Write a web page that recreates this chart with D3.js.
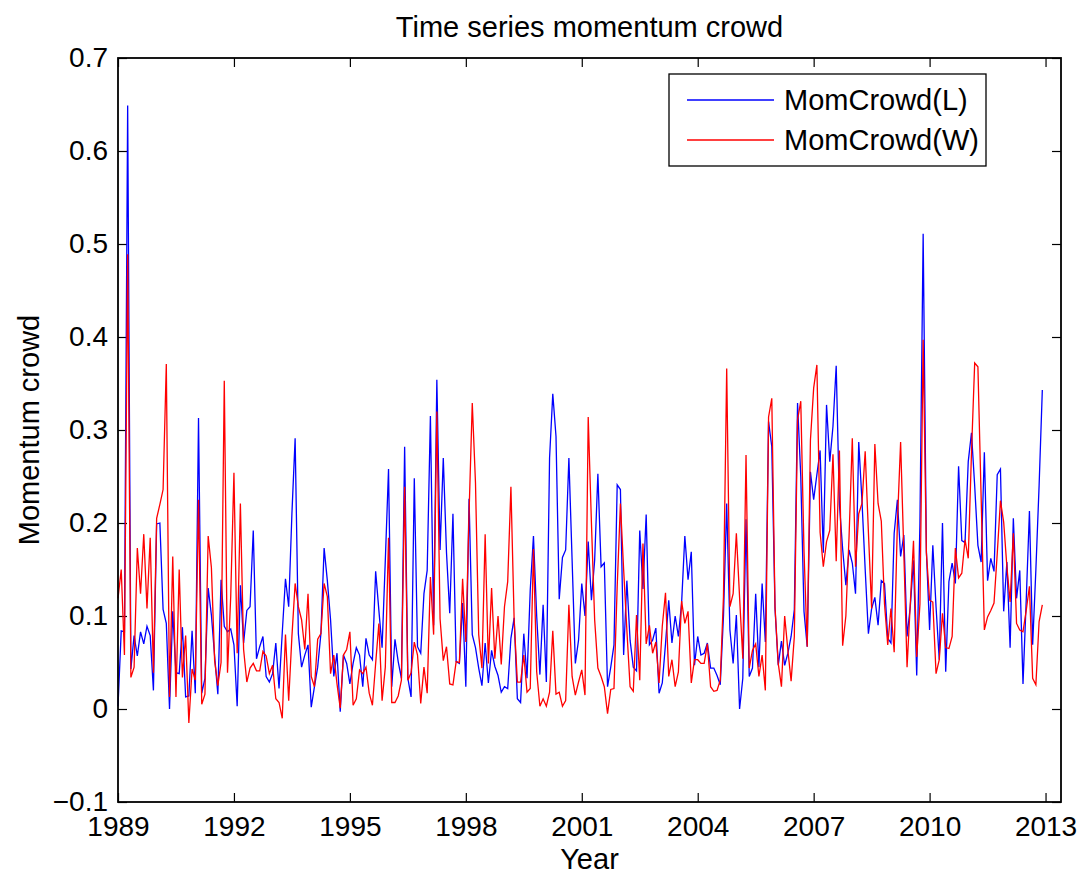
<!DOCTYPE html>
<html>
<head>
<meta charset="utf-8">
<script src="https://cdn.jsdelivr.net/npm/d3@7"></script>
<style>
  body { margin: 0; background: #fff; }
  svg { display: block; }
  text { font-family: "Liberation Sans", Arial, Helvetica, sans-serif; fill: #000; }
</style>
</head>
<body>
<div id="chart"></div>
<script>
// monthly values, Jan 1989 .. Dec 2012
var startYear = 1989;

var momCrowdL = [
  0.003, 0.084, 0.083, 0.649, 0.043, 0.079, 0.057, 0.083, 0.070, 0.089, 0.079, 0.020,
  0.199, 0.200, 0.107, 0.092, 0.000, 0.105, 0.039, 0.038, 0.088, 0.013, 0.014, 0.084,
  0.017, 0.313, 0.017, 0.033, 0.130, 0.101, 0.057, 0.016, 0.139, 0.089, 0.083, 0.086,
  0.069, 0.003, 0.133, 0.071, 0.106, 0.110, 0.192, 0.054, 0.067, 0.078, 0.035, 0.029,
  0.038, 0.071, 0.022, 0.082, 0.140, 0.110, 0.210, 0.291, 0.081, 0.045, 0.058, 0.069,
  0.002, 0.024, 0.045, 0.081, 0.173, 0.138, 0.096, 0.035, 0.060, -0.003, 0.058, 0.049,
  0.027, 0.049, 0.066, 0.058, 0.024, 0.076, 0.058, 0.053, 0.148, 0.106, 0.066, 0.160,
  0.258, 0.024, 0.075, 0.051, 0.033, 0.282, 0.033, 0.013, 0.248, 0.067, 0.060, 0.124,
  0.149, 0.315, 0.090, 0.354, 0.171, 0.270, 0.168, 0.103, 0.210, 0.051, 0.049, 0.114,
  0.024, 0.226, 0.080, 0.066, 0.044, 0.025, 0.071, 0.028, 0.063, 0.046, 0.036, 0.018,
  0.024, 0.022, 0.076, 0.098, 0.011, 0.007, 0.081, 0.033, 0.128, 0.186, 0.100, 0.037,
  0.112, 0.029, 0.270, 0.339, 0.293, 0.118, 0.163, 0.171, 0.270, 0.160, 0.049, 0.074,
  0.135, 0.100, 0.180, 0.117, 0.160, 0.253, 0.153, 0.157, 0.024, 0.045, 0.069, 0.241,
  0.236, 0.058, 0.138, 0.074, 0.045, 0.041, 0.192, 0.129, 0.209, 0.069, 0.074, 0.087,
  0.017, 0.028, 0.070, 0.117, 0.071, 0.100, 0.078, 0.114, 0.186, 0.139, 0.169, 0.047,
  0.078, 0.058, 0.060, 0.071, 0.044, 0.044, 0.036, 0.026, 0.100, 0.221, 0.085, 0.049,
  0.101, 0.000, 0.033, 0.204, 0.035, 0.044, 0.124, 0.045, 0.135, 0.072, 0.309, 0.282,
  0.108, 0.047, 0.073, 0.047, 0.060, 0.078, 0.107, 0.329, 0.250, 0.105, 0.067, 0.255,
  0.225, 0.252, 0.278, 0.168, 0.327, 0.266, 0.304, 0.369, 0.220, 0.172, 0.133, 0.171,
  0.157, 0.124, 0.287, 0.224, 0.150, 0.081, 0.108, 0.120, 0.090, 0.138, 0.135, 0.076,
  0.071, 0.189, 0.225, 0.164, 0.187, 0.078, 0.110, 0.160, 0.036, 0.200, 0.511, 0.170,
  0.085, 0.176, 0.110, 0.053, 0.200, 0.040, 0.137, 0.157, 0.135, 0.261, 0.181, 0.179,
  0.266, 0.297, 0.240, 0.176, 0.158, 0.276, 0.138, 0.162, 0.148, 0.252, 0.258, 0.105,
  0.158, 0.066, 0.205, 0.119, 0.149, 0.027, 0.117, 0.213, 0.069, 0.150, 0.240, 0.343
];

var momCrowdW = [
  0.119, 0.150, 0.058, 0.489, 0.034, 0.045, 0.173, 0.124, 0.188, 0.108, 0.184, 0.039,
  0.205, 0.220, 0.236, 0.371, 0.013, 0.164, 0.013, 0.150, 0.034, 0.079, -0.015, 0.043,
  0.031, 0.225, 0.005, 0.016, 0.186, 0.152, 0.052, 0.025, 0.050, 0.353, 0.039, 0.121,
  0.254, 0.060, 0.221, 0.064, 0.029, 0.044, 0.049, 0.041, 0.041, 0.062, 0.057, 0.038,
  0.047, 0.011, 0.007, -0.010, 0.080, 0.009, 0.078, 0.135, 0.110, 0.096, 0.064, 0.124,
  0.035, 0.024, 0.075, 0.081, 0.135, 0.121, 0.038, 0.058, 0.027, 0.001, 0.058, 0.064,
  0.083, 0.004, 0.011, 0.042, 0.038, 0.045, 0.017, 0.004, 0.049, 0.092, 0.009, 0.045,
  0.184, 0.007, 0.007, 0.014, 0.031, 0.239, 0.031, 0.039, 0.072, 0.058, 0.006, 0.045,
  0.017, 0.142, 0.080, 0.320, 0.097, 0.052, 0.067, 0.027, 0.026, 0.051, 0.050, 0.140,
  0.072, 0.210, 0.329, 0.243, 0.080, 0.044, 0.188, 0.049, 0.130, 0.054, 0.100, 0.048,
  0.110, 0.137, 0.239, 0.096, 0.029, 0.029, 0.058, 0.018, 0.022, 0.172, 0.040, 0.003,
  0.011, 0.003, 0.018, 0.084, 0.016, 0.018, 0.003, 0.009, 0.112, 0.035, 0.015, 0.029,
  0.042, 0.015, 0.314, 0.200, 0.096, 0.044, 0.035, 0.024, -0.005, 0.021, 0.022, 0.132,
  0.221, 0.150, 0.085, 0.024, 0.019, 0.101, 0.031, 0.178, 0.070, 0.090, 0.060, 0.072,
  0.028, 0.089, 0.125, 0.035, 0.053, 0.024, 0.040, 0.116, 0.092, 0.105, 0.028, 0.053,
  0.053, 0.049, 0.049, 0.070, 0.024, 0.019, 0.020, 0.031, 0.121, 0.366, 0.110, 0.124,
  0.189, 0.120, 0.054, 0.273, 0.044, 0.063, 0.070, 0.035, 0.058, 0.020, 0.314, 0.334,
  0.110, 0.049, 0.024, 0.100, 0.063, 0.030, 0.078, 0.311, 0.331, 0.170, 0.067, 0.289,
  0.345, 0.370, 0.190, 0.153, 0.180, 0.192, 0.274, 0.159, 0.278, 0.068, 0.100, 0.186,
  0.291, 0.153, 0.210, 0.221, 0.277, 0.190, 0.108, 0.285, 0.221, 0.202, 0.113, 0.069,
  0.108, 0.061, 0.200, 0.287, 0.168, 0.045, 0.113, 0.181, 0.056, 0.113, 0.397, 0.168,
  0.117, 0.115, 0.038, 0.053, 0.103, 0.066, 0.065, 0.078, 0.173, 0.141, 0.146, 0.182,
  0.162, 0.275, 0.372, 0.368, 0.228, 0.085, 0.099, 0.106, 0.114, 0.167, 0.224, 0.201,
  0.153, 0.115, 0.189, 0.092, 0.085, 0.083, 0.106, 0.132, 0.033, 0.026, 0.094, 0.112
];

var seriesNames = ["MomCrowd(L)", "MomCrowd(W)"];
var seriesColors = ["#0000ff", "#ff0000"];

var xTicks = [1989, 1992, 1995, 1998, 2001, 2004, 2007, 2010, 2013];
var yTicks = [-0.1, 0, 0.1, 0.2, 0.3, 0.4, 0.5, 0.6, 0.7];
var yTickLabels = ["\u22120.1", "0", "0.1", "0.2", "0.3", "0.4", "0.5", "0.6", "0.7"];

var titleText = "Time series momentum crowd";
var xLabelText = "Year";
var yLabelText = "Momentum crowd";

// ---- layout ----
var W = 1087, H = 880;
var margin = {top: 58, right: 26, bottom: 78, left: 118};
var width = W - margin.left - margin.right,
    height = H - margin.top - margin.bottom;
var tickFont = 28, labelFont = 29;

var svg = d3.select("#chart").append("svg")
    .attr("width", W)
    .attr("height", H);

var g = svg.append("g")
    .attr("transform", "translate(" + margin.left + "," + margin.top + ")");

var x = d3.scaleLinear().domain([1989, 2013.4]).range([0, width]);
var y = d3.scaleLinear().domain([-0.1, 0.7]).range([height, 0]);

// ---- axes (MATLAB style: ticks inside, on all four sides) ----
var tickLen = 9;

g.append("g")
    .attr("transform", "translate(0," + height + ")")
    .call(d3.axisBottom(x).tickValues(xTicks).tickFormat(d3.format("d"))
      .tickSizeInner(-tickLen).tickSizeOuter(0).tickPadding(14));

g.append("g")
    .call(d3.axisTop(x).tickValues(xTicks).tickFormat("")
      .tickSizeInner(-tickLen).tickSizeOuter(0));

g.append("g")
    .call(d3.axisLeft(y).tickValues(yTicks).tickFormat(function(d, i) { return yTickLabels[i]; })
      .tickSizeInner(-tickLen).tickSizeOuter(0).tickPadding(10));

g.append("g")
    .attr("transform", "translate(" + width + ",0)")
    .call(d3.axisRight(y).tickValues(yTicks).tickFormat("")
      .tickSizeInner(-tickLen).tickSizeOuter(0));

g.selectAll(".domain").remove();
g.selectAll(".tick line").attr("stroke", "#000").attr("stroke-width", 1.2);
g.selectAll(".tick text")
    .style("font-size", tickFont + "px")
    .attr("fill", "#000");

// ---- lines ----
var line = d3.line()
    .x(function(d, i) { return x(startYear + i / 12); })
    .y(function(d) { return y(d); });

[momCrowdL, momCrowdW].forEach(function(series, k) {
  g.append("path")
    .datum(series)
    .attr("fill", "none")
    .attr("stroke", seriesColors[k])
    .attr("stroke-width", 1.3)
    .attr("d", line);
});

// box
g.append("rect")
    .attr("width", width).attr("height", height)
    .attr("fill", "none")
    .attr("stroke", "#000")
    .attr("stroke-width", 1.8);

// ---- legend ----
var legend = g.append("g")
    .attr("transform", "translate(" + (669 - margin.left) + "," + (74 - margin.top) + ")");

legend.append("rect")
    .attr("width", 317).attr("height", 92)
    .attr("fill", "#fff")
    .attr("stroke", "#000")
    .attr("stroke-width", 1.3);

seriesNames.forEach(function(name, k) {
  var ly = 26 + k * 40;
  legend.append("line")
    .attr("x1", 18).attr("x2", 105)
    .attr("y1", ly).attr("y2", ly)
    .attr("stroke", seriesColors[k])
    .attr("stroke-width", 1.3);
  legend.append("text")
    .attr("x", 115).attr("y", ly)
    .attr("dy", "0.35em")
    .style("font-size", labelFont + "px")
    .text(name);
});

// ---- title and labels ----
svg.append("text")
    .attr("x", margin.left + width / 2)
    .attr("y", 37)
    .attr("text-anchor", "middle")
    .style("font-size", labelFont + "px")
    .text(titleText);

svg.append("text")
    .attr("x", margin.left + width / 2)
    .attr("y", 869)
    .attr("text-anchor", "middle")
    .style("font-size", labelFont + "px")
    .text(xLabelText);

svg.append("text")
    .attr("transform", "translate(39," + (margin.top + height / 2) + ") rotate(-90)")
    .attr("text-anchor", "middle")
    .style("font-size", labelFont + "px")
    .text(yLabelText);
</script>
</body>
</html>
